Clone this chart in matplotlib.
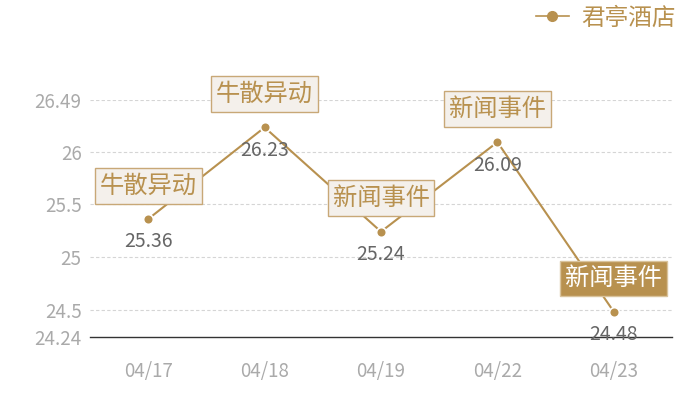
import matplotlib
matplotlib.use("Agg")
import matplotlib.pyplot as plt
from matplotlib.lines import Line2D

plt.rcParams['font.family'] = ['Noto Sans CJK SC', 'DejaVu Sans']

dates = ["04/17", "04/18", "04/19", "04/22", "04/23"]
values = [25.36, 26.23, 25.24, 26.09, 24.48]
events = ["牛散异动", "牛散异动", "新闻事件", "新闻事件", "新闻事件"]
highlight = [False, False, False, False, True]
yticks = [24.24, 24.5, 25, 25.5, 26, 26.49]
ytick_labels = ["24.24", "24.5", "25", "25.5", "26", "26.49"]
series_name = "君亭酒店"

gold = '#b8914f'
W, H = 700, 400
fig = plt.figure(figsize=(W/100, H/100), dpi=100)
ax = fig.add_axes([90/W, (H-337)/H, (672-90)/W, (337-100)/H])

x = list(range(len(dates)))
ax.plot(x, values, color=gold, lw=1.5, zorder=2)
ax.plot(x, values, 'o', color=gold, ms=7, mec='white', mew=1.2, zorder=3)

ax.set_xlim(-0.5, len(dates) - 0.5)
ax.set_ylim(yticks[0], yticks[-1])
ax.set_yticks(yticks)
ax.set_yticklabels(ytick_labels)
ax.set_xticks(x)
ax.set_xticklabels(dates)
ax.tick_params(axis='both', length=0, labelsize=13.5, colors='#aaaaaa')
ax.tick_params(axis='y', pad=6)
ax.tick_params(axis='x', pad=17)
for s in ['top', 'right', 'left']:
    ax.spines[s].set_visible(False)
ax.spines['bottom'].set_color('#333333')
ax.spines['bottom'].set_linewidth(1)
for yt in yticks[1:]:
    ax.axhline(yt, color='#d5d5d5', lw=0.8, ls=(0, (3, 2)), zorder=1)

for xi, v, ev, hl in zip(x, values, events, highlight):
    ax.annotate(f"{v:.2f}", (xi, v), xytext=(0, -16.5), textcoords='offset points',
                ha='center', va='center', fontsize=14, color='#666666', zorder=5,
                annotation_clip=False)
    if hl:
        bb = dict(boxstyle='square,pad=0.2', fc=gold, ec='#d9c39c', lw=1)
        tc = 'white'
    else:
        bb = dict(boxstyle='square,pad=0.2', fc='#f4f0eb', ec='#c8a877', lw=1)
        tc = gold
    ax.annotate(ev, (xi, v), xytext=(0, 24), textcoords='offset points',
                ha='center', va='center', fontsize=17.5, color=tc, bbox=bb, zorder=6,
                annotation_clip=False)

handle = Line2D([], [], color=gold, lw=1.2, marker='o', ms=7, mfc=gold, mec=gold)
fig.legend([handle], [series_name], loc='upper right', bbox_to_anchor=(680/W, 0.995),
           frameon=False, fontsize=17, labelcolor=gold, handlelength=1.4,
           handletextpad=0.5, borderaxespad=0.0, borderpad=0.2)

fig.savefig('out.png', dpi=100)
